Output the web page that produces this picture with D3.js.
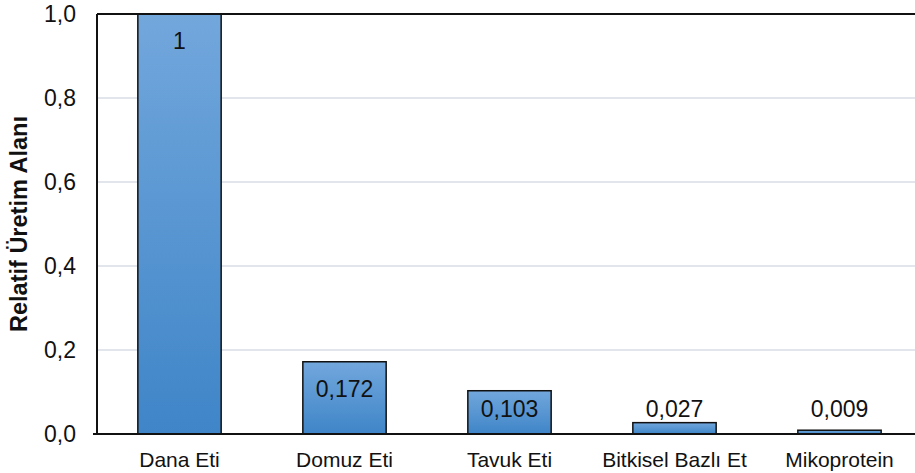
<!DOCTYPE html>
<html><head><meta charset="utf-8">
<script src="https://cdn.jsdelivr.net/npm/d3@7"></script>
<style>body{margin:0;background:#fff}svg{display:block}text{font-family:Arial,"Liberation Sans",sans-serif}</style>
</head><body>
<svg id="c" width="915" height="473"></svg>
<script>
const categories = ["Dana Eti","Domuz Eti","Tavuk Eti","Bitkisel Bazlı Et","Mikoprotein"];
const values = [1, 0.172, 0.103, 0.027, 0.009];
const valueLabels = ["1","0,172","0,103","0,027","0,009"];
const yTicks = [0, 0.2, 0.4, 0.6, 0.8, 1.0];
const yTickLabels = ["0,0","0,2","0,4","0,6","0,8","1,0"];
const yTitle = "Relatif Üretim Alanı";

const FONT = "Arial, 'Liberation Sans', sans-serif";
const svg = d3.select("#c");
const L = 97, R = 922, T = 14, B = 434;
const x = d3.scaleBand().domain(categories).range([L, R]).paddingInner(0.495).paddingOuter(0.2475);
const y = d3.scaleLinear().domain([0, 1]).range([B, T]);

const defs = svg.append("defs");
const g = defs.append("linearGradient").attr("id","bg").attr("x1",0).attr("y1",0).attr("x2",0).attr("y2",1);
g.append("stop").attr("offset","0%").attr("stop-color","#72a7dc");
g.append("stop").attr("offset","100%").attr("stop-color","#3f85c8");

// gridlines
svg.append("g").selectAll("line").data(yTicks.filter(t => t > 0 && t < 1)).join("line")
  .attr("x1", L).attr("x2", 915).attr("y1", d => y(d)).attr("y2", d => y(d))
  .attr("stroke", "#d9dee6").attr("stroke-width", 1.5);

// bars
svg.append("g").selectAll("rect").data(values).join("rect")
  .attr("x", (d,i) => x(categories[i]))
  .attr("y", d => y(d))
  .attr("width", x.bandwidth())
  .attr("height", d => B - y(d))
  .attr("fill", "url(#bg)")
  .attr("stroke", "#111").attr("stroke-width", 1.5);

// top line
svg.append("line").attr("x1", L).attr("x2", 915).attr("y1", T).attr("y2", T)
  .attr("stroke", "#111").attr("stroke-width", 2);

// y axis
const ya = d3.axisLeft(y).tickValues(yTicks).tickFormat((d,i) => yTickLabels[i]).tickSize(0).tickPadding(21);
const yg = svg.append("g").attr("transform", `translate(${L},0)`).call(ya);
yg.select(".domain").remove();
yg.attr("font-size", 23).attr("font-family", FONT);
yg.selectAll("text").attr("fill", "#111");
svg.append("line").attr("x1", L).attr("x2", L).attr("y1", T).attr("y2", B + 1).attr("stroke", "#111").attr("stroke-width", 2);
svg.append("line").attr("x1", L - 4).attr("x2", 915).attr("y1", B).attr("y2", B).attr("stroke", "#111").attr("stroke-width", 2);

// x axis
const xa = d3.axisBottom(x).tickSize(0).tickPadding(18);
const xg = svg.append("g").attr("transform", `translate(0,${B})`).call(xa);
xg.select(".domain").remove();
xg.attr("font-size", 21).attr("font-family", FONT);
xg.selectAll("text").attr("fill", "#111");

// value labels
svg.append("g").attr("font-size", 23).attr("font-family", FONT)
  .selectAll("text").data(values).join("text")
  .attr("x", (d,i) => x(categories[i]) + x.bandwidth()/2)
  .attr("y", d => Math.min(y(d) + 35, B - 17))
  .attr("text-anchor", "middle")
  .attr("fill", "#111")
  .text((d,i) => valueLabels[i]);

// y title
svg.append("text").attr("transform", `translate(27,${(T+B)/2}) rotate(-90)`)
  .attr("text-anchor", "middle").attr("font-size", 23.5).attr("font-weight", "bold").attr("fill", "#111")
  .attr("font-family", FONT)
  .text(yTitle);
</script>
</body></html>
